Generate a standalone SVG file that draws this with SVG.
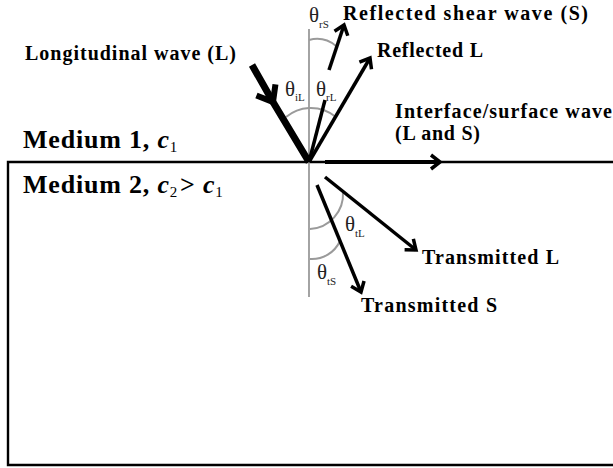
<svg xmlns="http://www.w3.org/2000/svg" width="613" height="468" viewBox="0 0 613 468">
<style>
.lbl{font-family:"Liberation Serif","Times New Roman",serif;font-weight:bold;font-size:20px;fill:#000}
.med{font-family:"Liberation Serif","Times New Roman",serif;font-weight:bold;font-size:26px;fill:#000;letter-spacing:0.8px}
.it{font-style:italic}
.msub{font-size:15px;font-weight:normal}
.ang{font-family:"Liberation Serif","Times New Roman",serif;font-size:21px;fill:#222}
.asub{font-size:11px}
.gray{stroke:#9a9a9a;stroke-width:2;fill:none}
.ray{stroke:#000;stroke-width:3.5;fill:none}
</style>
<defs>
<marker id="head" markerUnits="userSpaceOnUse" markerWidth="30" markerHeight="30" refX="0" refY="0" viewBox="-15 -15 30 30" orient="auto" overflow="visible">
<path d="M-9,-7 L0,0 L-9,7" fill="none" stroke="#000" stroke-width="3.5" stroke-linejoin="miter"/>
</marker>
<marker id="headBig" markerUnits="userSpaceOnUse" markerWidth="40" markerHeight="40" refX="0" refY="0" viewBox="-20 -20 40 40" orient="auto" overflow="visible">
<path d="M-14,-11 L0,0 L-14,11" fill="none" stroke="#000" stroke-width="6" stroke-linejoin="miter"/>
</marker>
</defs>
<g id="media">
<path d="M613,162 H8 V465 H613" fill="none" stroke="#000" stroke-width="2.4"/>
<text class="med" x="23" y="148">Medium 1, <tspan class="it">c</tspan><tspan class="msub" dy="4">1</tspan></text>
<text class="med" x="23" y="193">Medium 2, <tspan class="it">c</tspan><tspan class="msub" dy="4">2</tspan><tspan dy="-4" dx="2">&gt; </tspan><tspan class="it">c</tspan><tspan class="msub" dy="4">1</tspan></text>
</g>
<g id="normal">
<line x1="309" y1="29" x2="309" y2="297" stroke="#9a9a9a" stroke-width="1.8"/>
</g>
<g id="angles">
<path class="gray" d="M286,117 A40 40 0 0 1 309,108 A40 40 0 0 1 336,117"/>
<path class="gray" d="M309,40 A30 30 0 0 1 336,46"/>
<path class="gray" d="M310,229 A35 35 0 0 0 343,192"/>
<path class="gray" d="M310,259 A31 31 0 0 0 340,241"/>
<text class="ang" x="309" y="22">θ<tspan class="asub" dy="6">rS</tspan></text>
<text class="ang" x="285" y="96">θ<tspan class="asub" dy="5">iL</tspan></text>
<text class="ang" x="316" y="96">θ<tspan class="asub" dy="5">rL</tspan></text>
<text class="ang" x="345" y="231">θ<tspan class="asub" dy="6">tL</tspan></text>
<text class="ang" x="317" y="279">θ<tspan class="asub" dy="6">tS</tspan></text>
</g>
<g id="connectors">
<path d="M252,65 L273,102 L309,162" fill="none" stroke="#000" stroke-width="7" marker-mid="url(#headBig)"/>
<path class="ray" d="M309,162 L370,58" marker-end="url(#head)"/>
<path class="ray" d="M309,162 L325,100"/>
<path class="ray" d="M329,70 L344,25" marker-end="url(#head)"/>
<path d="M325,162 L440,162" fill="none" stroke="#000" stroke-width="4" marker-end="url(#head)"/>
<path class="ray" d="M325,177 L416,250" marker-end="url(#head)"/>
<path class="ray" d="M317,185 L361,292" marker-end="url(#head)"/>
</g>
<g id="labels">
<text class="lbl" x="25" y="60" textLength="211" lengthAdjust="spacing">Longitudinal wave (L)</text>
<text class="lbl" x="343" y="20" textLength="245" lengthAdjust="spacing">Reflected shear wave (S)</text>
<text class="lbl" x="377" y="57" textLength="106" lengthAdjust="spacing">Reflected L</text>
<text class="lbl" x="395" y="118" textLength="217" lengthAdjust="spacing">Interface/surface wave</text>
<text class="lbl" x="395" y="140" textLength="85" lengthAdjust="spacing">(L and S)</text>
<text class="lbl" x="422" y="264" textLength="137" lengthAdjust="spacing">Transmitted L</text>
<text class="lbl" x="361" y="312" textLength="136" lengthAdjust="spacing">Transmitted S</text>
</g>
</svg>
